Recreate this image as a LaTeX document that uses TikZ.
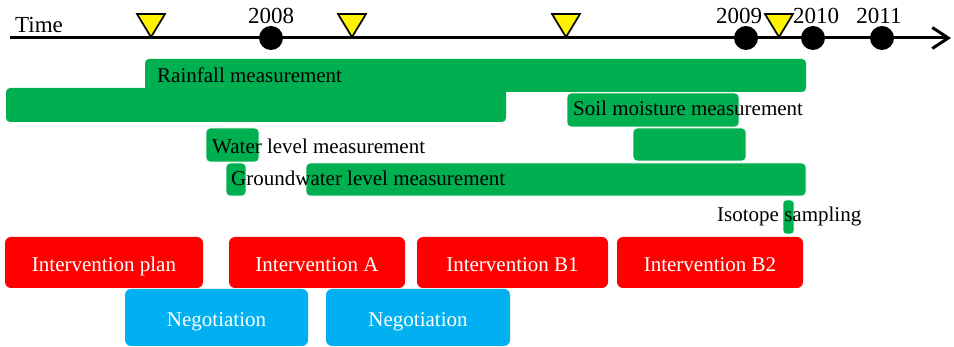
\documentclass[tikz,border=0pt]{standalone}
\usepackage{fontspec}
\setmainfont{Liberation Serif}
\usepackage{tikz}
\usetikzlibrary{positioning,arrows.meta,shadows}
\usepackage{xcolor}
\definecolor{barGreen}{RGB}{0,176,80}
\definecolor{boxRed}{RGB}{255,0,0}
\definecolor{boxBlue}{RGB}{0,176,240}

\tikzset{
  bar/.style={fill=barGreen, draw=white, line width=0.8pt, rounded corners=4pt},
  lbl/.style={anchor=base west, inner sep=0pt},
  task/.style={rounded corners=6pt, text=white, inner sep=0pt, minimum height=51pt,
    text height=18pt, text depth=0pt},
  yeardot/.style={circle, fill=black, minimum size=24pt, inner sep=0pt},
  yearlbl/.style={inner sep=0pt, font=\fontsize{23}{27}\selectfont},
  milestone/.style={fill=yellow, draw=black, line width=1.6pt, line join=miter,
    drop shadow={shadow xshift=0pt, shadow yshift=-3pt, opacity=0.2}}
}

\begin{document}
\begin{tikzpicture}[x=1pt, y=-1pt, every node/.style={font=\fontsize{21}{25}\selectfont}]
  \useasboundingbox (0,0) rectangle (954,347);
  % Time axis
  \coordinate (tstart) at (10,38);
  \coordinate (tend) at (951,38);
  \draw[line width=3pt, -{Straight Barb[length=16pt, width=21pt]}] (tstart) -- (tend);
  \node[lbl, font=\fontsize{23}{27}\selectfont] (time) at (15,33) {Time};
  % years
  \node[yeardot] (y2008) at (271,38) {};
  \node[yeardot] (y2009) at (746,38) {};
  \node[yeardot] (y2010) at (813,38) {};
  \node[yeardot] (y2011) at (882,38) {};
  \node[yearlbl, above=2pt of y2008] (l2008) {2008};
  \node[yearlbl, above=2pt of y2009, xshift=-7pt] (l2009) {2009};
  \node[yearlbl, above=2pt of y2010, xshift=3pt] (l2010) {2010};
  \node[yearlbl, above=2pt of y2011, xshift=-3pt] (l2011) {2011};
  % milestones
  \foreach \x in {151,352,566,779}
    \filldraw[milestone] (\x-14,14) -- (\x+14,14) -- (\x,37) -- cycle;

  % measurements
  \fill[barGreen, rounded corners=4pt] (6,88) rectangle (506,122);
  \fill[barGreen, rounded corners=4pt] (145,59) rectangle (806,92);
  \draw[bar] (567,93) rectangle (739,127);
  \draw[bar] (633,128) rectangle (746,161);
  \draw[bar] (206,128) rectangle (259,162);
  \draw[bar] (226,163) rectangle (246,196);
  \draw[bar] (306,163) rectangle (806,196);
  \draw[bar, rounded corners=3pt] (783,200) rectangle (794,234);
  \node[lbl] (rain) at (157,83) {Rainfall measurement};
  \node[lbl] (soil) at (573,116) {Soil moisture measurement};
  \node[lbl] (water) at (212,154) {Water level measurement};
  \node[lbl] (ground) at (231,186) {Groundwater level measurement};
  \node[lbl] (iso) at (717,222) {Isotope sampling};

  % interventions
  \node[task, fill=boxRed, minimum width=198pt] (plan) at (104,262.5) {Intervention plan};
  \node[task, fill=boxRed, minimum width=176pt] (intA) at (317,262.5) {Intervention A};
  \node[task, fill=boxRed, minimum width=191pt] (intB1) at (512.5,262.5) {Intervention B1};
  \node[task, fill=boxRed, minimum width=186pt] (intB2) at (710,262.5) {Intervention B2};
  % negotiations
  \node[task, fill=boxBlue, minimum width=183pt, minimum height=57pt] (neg1) at (216.5,317.5) {Negotiation};
  \node[task, fill=boxBlue, minimum width=184pt, minimum height=57pt] (neg2) at (418,317.5) {Negotiation};
\end{tikzpicture}
\end{document}
